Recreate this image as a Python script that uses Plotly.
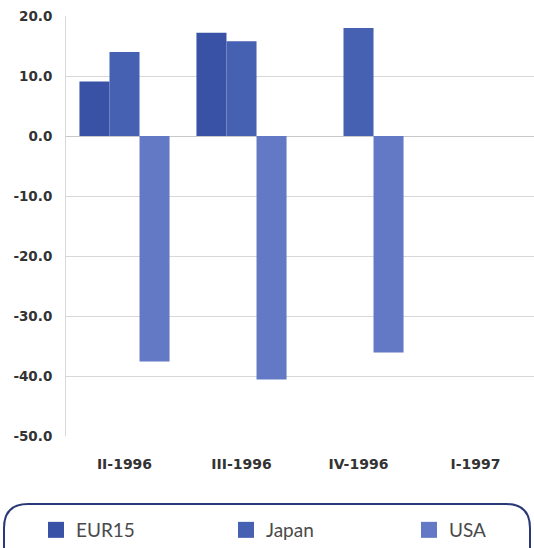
import plotly.graph_objects as go

# Quarterly values by region
quarters = ["II-1996", "III-1996", "IV-1996", "I-1997"]
eur15 = [9.1, 17.2, None, None]
japan = [14.0, 15.8, 18.0, None]
usa = [-37.6, -40.6, -36.1, None]

tick_vals = [20, 10, 0, -10, -20, -30, -40, -50]
tick_text = ["20.0", "10.0", "0.0", "-10.0", "-20.0", "-30.0", "-40.0", "-50.0"]

series = [("EUR15", eur15, "#3a52a5"), ("Japan", japan, "#4660b2"), ("USA", usa, "#6479c5")]

W, H = 534, 548
L, R, T, B = 66, 0, 16, 112
pw, ph = W - L - R, H - T - B

fig = go.Figure()
for name, vals, col in series:
    fig.add_trace(go.Bar(x=quarters, y=vals, name=name, showlegend=False,
                         marker=dict(color=col, line=dict(width=0))))

# legend keys: larger square swatches, one legend box per region
legend_x = [36, 226, 409]
legend_names = ["legend", "legend2", "legend3"]
for (name, vals, col), lg in zip(series, legend_names):
    fig.add_trace(go.Scatter(x=[None], y=[None], mode="markers", name=name, legend=lg,
                             marker=dict(symbol="square", size=18, color=col)))

legend_style = dict(orientation="h", xref="container", yref="container",
                    xanchor="left", yanchor="middle", y=1 - 530 / H,
                    font=dict(family="Lato", size=19, color="#4a4a4a"),
                    bgcolor="rgba(0,0,0,0)", borderwidth=0)


def px(x):
    return (x - L) / pw


def py(y):
    return (H - B - y) / ph


# rounded frame around the legend
x0, x1, y0, y1, r = 4, 530, 504, 570, 24
path = (f"M {px(x0 + r)},{py(y0)} L {px(x1 - r)},{py(y0)} "
        f"Q {px(x1)},{py(y0)} {px(x1)},{py(y0 + r)} L {px(x1)},{py(y1)} "
        f"L {px(x0)},{py(y1)} L {px(x0)},{py(y0 + r)} "
        f"Q {px(x0)},{py(y0)} {px(x0 + r)},{py(y0)} Z")

fig.update_layout(
    width=W, height=H,
    margin=dict(l=L, r=R, t=T, b=B, autoexpand=False),
    paper_bgcolor="white", plot_bgcolor="white",
    barmode="group", bargap=0.23, bargroupgap=0,
    showlegend=True,
    legend=dict(x=legend_x[0] / W, **legend_style),
    legend2=dict(x=legend_x[1] / W, **legend_style),
    legend3=dict(x=legend_x[2] / W, **legend_style),
    shapes=[dict(type="path", path=path, xref="paper", yref="paper",
                 line=dict(color="#2b3878", width=2), layer="above")],
    xaxis=dict(showgrid=False, showline=False, ticks="", ticklabelstandoff=18,
               tickfont=dict(family="DejaVu Sans", size=14, color="#333", weight="bold")),
    yaxis=dict(range=[-50, 20], tickvals=tick_vals, ticktext=tick_text,
               showgrid=True, gridcolor="#d8d8d8", gridwidth=1,
               zeroline=True, zerolinecolor="#c8c8c8", zerolinewidth=1,
               showline=True, linecolor="#d8d8d8", ticks="", ticklabelstandoff=10,
               tickfont=dict(family="DejaVu Sans", size=13.5, color="#333", weight="bold")),
)

fig.write_html("out.html")
